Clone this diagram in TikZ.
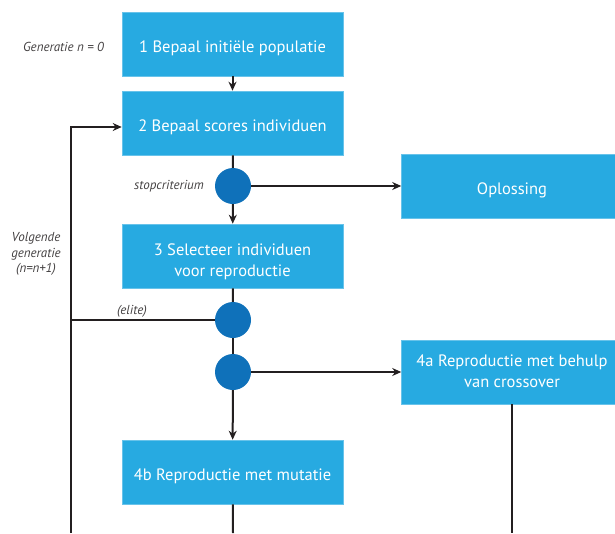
\documentclass[tikz,border=0pt]{standalone}
\usepackage{fontspec}
\setmainfont{PT Sans}
\usetikzlibrary{arrows.meta}
\definecolor{boxblue}{HTML}{27AAE1}
\definecolor{dotblue}{HTML}{0F71BA}
\definecolor{linegray}{HTML}{231F20}
\tikzset{
  stepbox/.style={rectangle, fill=boxblue, draw=boxblue!70!white, line width=0.6pt, minimum width=221pt, minimum height=64pt, text=white, font=\fontsize{16.5}{21}\selectfont, align=center, inner sep=0pt, text height=21pt, text depth=4.4pt},
  dot/.style={circle, fill=dotblue, minimum size=36pt, inner sep=0pt},
  conn/.style={draw=linegray, line width=2pt},
  arr/.style={conn, -{Stealth[length=9pt,width=8pt]}},
  lab/.style={font=\itshape\fontsize{13}{15.5}\selectfont, text=linegray!85!white, inner sep=0pt, align=center}
}
\begin{document}
\begin{tikzpicture}[x=1pt,y=-1pt]
\useasboundingbox (0,0) rectangle (615,533);
\clip (0,0) rectangle (615,533);
\node[stepbox] (b1) at (232.5,44) {1 Bepaal initiële populatie};
\node[stepbox] (b2) at (232.5,123) {2 Bepaal scores individuen};
\node[dot] (c1) at (233,186) {};
\node[stepbox] (opl) at (512,186) {Oplossing};
\node[stepbox, text height=44.4pt] (b3) at (232.5,256) {3 Selecteer individuen\\voor reproductie};
\node[dot] (c2) at (233,320) {};
\node[dot] (c3) at (233,372) {};
\node[stepbox, text height=34.4pt] (b4a) at (512,372) {4a Reproductie met behulp\\van crossover};
\node[stepbox] (b4b) at (232.5,472) {4b Reproductie met mutatie};
\coordinate (lb) at (71,533);
\coordinate (lt) at (71,127);
\coordinate (le) at (71,320);
\coordinate (bb) at (233,533);
\coordinate (ab) at (512,533);
\node[lab, anchor=east] (g0) at (104,47) {Generatie \textit{n} = 0};
\node[lab, anchor=east] (sc) at (204,186) {stopcriterium};
\node[lab] (vg) at (36,254) {Volgende\\generatie\\(n=n+1)};
\node[lab] (el) at (132,311) {(elite)};
\draw[arr] (b1) -- (b2);
\draw[conn] (b2) -- (c1);
\draw[arr] (c1) -- (b3);
\draw[arr] (c1) -- (opl);
\draw[conn] (b3) -- (c2);
\draw[conn] (c2) -- (c3);
\draw[arr] (c3) -- (b4b);
\draw[arr] (c3) -- (b4a);
\draw[conn] (c2) -- (le);
\draw[arr] (lb) -- (lt) -- (b2.west |- lt);
\draw[conn] (b4b) -- (bb);
\draw[conn] (b4a) -- (ab);
\end{tikzpicture}
\end{document}
